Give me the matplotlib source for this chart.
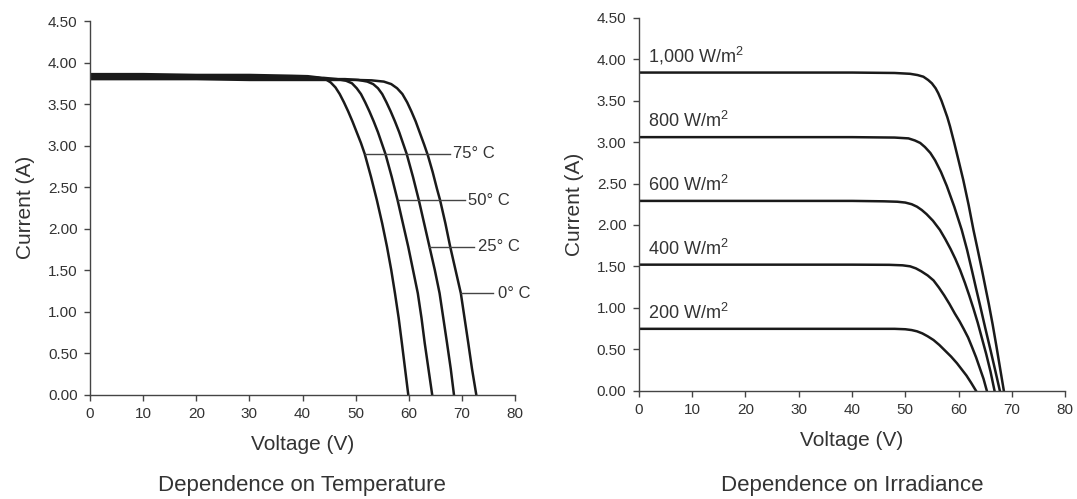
import numpy as np
import matplotlib
matplotlib.use("Agg")
import matplotlib.pyplot as plt

plt.rcParams['font.family'] = ['Liberation Sans', 'DejaVu Sans']
plt.rcParams['mathtext.fontset'] = 'custom'
plt.rcParams['mathtext.rm'] = 'Liberation Sans'

# ---- temperature curves (V, I) ----
tempLabels = ["75° C", "50° C", "25° C", "0° C"]
v75 = [0, 10, 20, 30, 38, 41, 43, 44.3, 45.3, 46.2, 47.0, 47.8, 48.6, 49.4, 50.2, 51.0, 51.7,
       52.9, 54.0, 55.0, 55.9, 56.7, 57.4, 58.1, 58.7, 59.3, 59.9]
i75 = [3.86, 3.86, 3.85, 3.85, 3.84, 3.835, 3.82, 3.80, 3.76, 3.70, 3.62, 3.52, 3.41, 3.29, 3.16, 3.03, 2.90,
       2.62, 2.34, 2.06, 1.78, 1.50, 1.22, 0.92, 0.62, 0.31, 0]
v50 = [0, 10, 20, 30, 40, 44, 46.5, 48.2, 49.3, 50.2, 51.0, 51.8, 52.6, 53.4, 54.2, 54.9, 55.6,
       56.8, 57.9, 58.9, 59.9, 60.8, 61.7, 62.4, 63.0, 63.7, 64.4]
i50 = [3.84, 3.84, 3.83, 3.83, 3.82, 3.815, 3.80, 3.78, 3.75, 3.69, 3.62, 3.52, 3.41, 3.29, 3.16, 3.03, 2.90,
       2.62, 2.34, 2.06, 1.78, 1.50, 1.22, 0.92, 0.62, 0.31, 0]
v25 = [0, 10, 20, 30, 40, 48, 50.5, 52.2, 53.3, 54.2, 55.0, 55.8, 56.6, 57.4, 58.2, 58.9, 59.6,
       60.8, 61.9, 62.9, 63.9, 64.9, 65.8, 66.5, 67.2, 67.9, 68.5]
i25 = [3.82, 3.82, 3.81, 3.81, 3.80, 3.80, 3.79, 3.77, 3.74, 3.69, 3.62, 3.52, 3.41, 3.29, 3.16, 3.03, 2.90,
       2.62, 2.34, 2.06, 1.78, 1.50, 1.22, 0.92, 0.62, 0.31, 0]
v0 = [0, 10, 20, 30, 40, 50, 53, 55.3, 56.7, 57.8, 58.8, 59.7, 60.5, 61.3, 62.1, 62.9, 63.6,
      64.5, 65.3, 65.9, 66.9, 67.8, 68.8, 69.8, 70.5, 71.2, 71.9, 72.7]
i0 = [3.80, 3.80, 3.80, 3.79, 3.79, 3.79, 3.785, 3.77, 3.74, 3.69, 3.62, 3.52, 3.41, 3.29, 3.15, 3.01, 2.88,
      2.68, 2.48, 2.34, 2.06, 1.78, 1.50, 1.22, 0.92, 0.62, 0.31, 0]
tempCurves = [(v75, i75), (v50, i50), (v25, i25), (v0, i0)]
# leader lines: (start V, end V, I, text V)
tempLeaders = [(51.7, 67.8, 2.90, 68.4), (57.9, 70.6, 2.34, 71.2),
               (63.9, 72.2, 1.78, 73.0), (69.8, 75.9, 1.22, 76.8)]

# ---- irradiance curves ----
irrLabels = ["1,000 W/m$^2$", "800 W/m$^2$", "600 W/m$^2$", "400 W/m$^2$", "200 W/m$^2$"]
v1000 = [0, 10, 20, 30, 40, 48, 50.9, 52.3, 53.4, 54.3, 55.0, 55.7, 56.2, 56.8, 57.3, 57.9, 58.4,
         59.2, 60.0, 60.9, 61.9, 62.8, 63.6, 64.4, 65.1, 65.7, 66.4, 67.1, 67.8, 68.5]
i1000 = [3.84, 3.84, 3.84, 3.84, 3.84, 3.835, 3.825, 3.81, 3.79, 3.75, 3.71, 3.65, 3.59, 3.50, 3.41, 3.30, 3.19,
         2.99, 2.78, 2.54, 2.24, 1.94, 1.70, 1.455, 1.23, 1.04, 0.80, 0.54, 0.27, 0]
v800 = [0, 10, 20, 30, 40, 48, 50.6, 51.8, 52.8, 53.7, 54.7, 55.6, 56.7, 57.8, 59.2, 60.6,
        61.6, 62.5, 63.3, 64.0, 65.0, 66.0, 66.9, 67.75]
i800 = [3.06, 3.06, 3.06, 3.06, 3.06, 3.055, 3.045, 3.02, 2.99, 2.94, 2.87, 2.78, 2.64, 2.47, 2.22, 1.94,
        1.70, 1.455, 1.23, 1.04, 0.76, 0.49, 0.24, 0]
v600 = [0, 10, 20, 30, 40, 46, 48.5, 50.0, 51.2, 52.2, 53.1, 54.0, 55.2, 56.5, 57.5, 58.5, 59.4,
        60.3, 61.2, 62.0, 62.8, 63.6, 64.4, 65.2, 66.0, 66.75]
i600 = [2.29, 2.29, 2.29, 2.29, 2.29, 2.285, 2.28, 2.27, 2.25, 2.22, 2.18, 2.13, 2.05, 1.94, 1.83, 1.71, 1.59,
        1.455, 1.30, 1.15, 0.99, 0.82, 0.63, 0.44, 0.23, 0]
v400 = [0, 10, 20, 30, 40, 47, 49.5, 50.9, 52.0, 53.0, 54.2, 55.3, 56.3, 57.3, 58.3, 59.3,
        60.2, 61.0, 61.8, 62.5, 63.3, 64.0, 64.7, 65.3]
i400 = [1.52, 1.52, 1.52, 1.52, 1.52, 1.518, 1.512, 1.50, 1.475, 1.44, 1.39, 1.33, 1.245, 1.15, 1.045, 0.93,
        0.835, 0.74, 0.64, 0.53, 0.40, 0.27, 0.14, 0]
v200 = [0, 10, 20, 30, 40, 48, 50.0, 51.2, 52.2, 53.2, 54.2, 55.3, 56.4, 57.5, 58.6, 59.7,
        60.6, 61.5, 62.4, 63.25]
i200 = [0.745, 0.745, 0.745, 0.745, 0.745, 0.745, 0.74, 0.73, 0.715, 0.69, 0.655, 0.61, 0.55, 0.48, 0.41, 0.33,
        0.255, 0.18, 0.09, 0]
irrCurves = [(v1000, i1000), (v800, i800), (v600, i600), (v400, i400), (v200, i200)]
irrLevels = [3.84, 3.06, 2.29, 1.52, 0.745]

xTicks = [0, 10, 20, 30, 40, 50, 60, 70, 80]
yTicks = [0, 0.5, 1.0, 1.5, 2.0, 2.5, 3.0, 3.5, 4.0, 4.5]

lineCol = '#1a1a1a'
textCol = '#333333'


def styleAxes(ax):
    ax.set_xlim(0, 80)
    ax.set_ylim(0, 4.5)
    ax.set_xticks(xTicks)
    ax.set_yticks(yTicks)
    ax.set_yticklabels(["%.2f" % y for y in yTicks])
    for s in ['top', 'right']:
        ax.spines[s].set_visible(False)
    for s in ['left', 'bottom']:
        ax.spines[s].set_color('#444444')
        ax.spines[s].set_linewidth(1.0)
    ax.tick_params(direction='out', length=4, width=1, color='#444444',
                   labelsize=11, labelcolor=textCol, pad=5)
    ax.set_xlabel("Voltage (V)", fontsize=15, color=textCol, labelpad=10)
    ax.set_ylabel("Current (A)", fontsize=15, color=textCol, labelpad=9)


fig = plt.figure(figsize=(10.77, 4.99), dpi=100)
ax1 = fig.add_axes([0.0836, 0.2094, 0.3946, 0.7485])
ax2 = fig.add_axes([0.5933, 0.2174, 0.3956, 0.7467])

for v, i in tempCurves:
    ax1.plot(v, i, color=lineCol, linewidth=1.8, solid_joinstyle='round')
for (v0_, v1_, iy, vt), lab in zip(tempLeaders, tempLabels):
    ax1.plot([v0_, v1_], [iy, iy], color='#444444', linewidth=1.0)
    ax1.text(vt, iy, lab, fontsize=12, color=textCol, va='center', ha='left')
styleAxes(ax1)

for (v, i), lab, lev in zip(irrCurves, irrLabels, irrLevels):
    ax2.plot(v, i, color=lineCol, linewidth=1.8, solid_joinstyle='round')
    ax2.text(1.7, lev + 0.07, lab, fontsize=13, color=textCol, va='bottom', ha='left')
styleAxes(ax2)

fig.text(302 / 1077, 1 - 485 / 499, "Dependence on Temperature", ha='center', va='center',
         fontsize=16, color=textCol)
fig.text(852 / 1077, 1 - 485 / 499, "Dependence on Irradiance", ha='center', va='center',
         fontsize=16, color=textCol)

fig.savefig("out.png", dpi=100)
